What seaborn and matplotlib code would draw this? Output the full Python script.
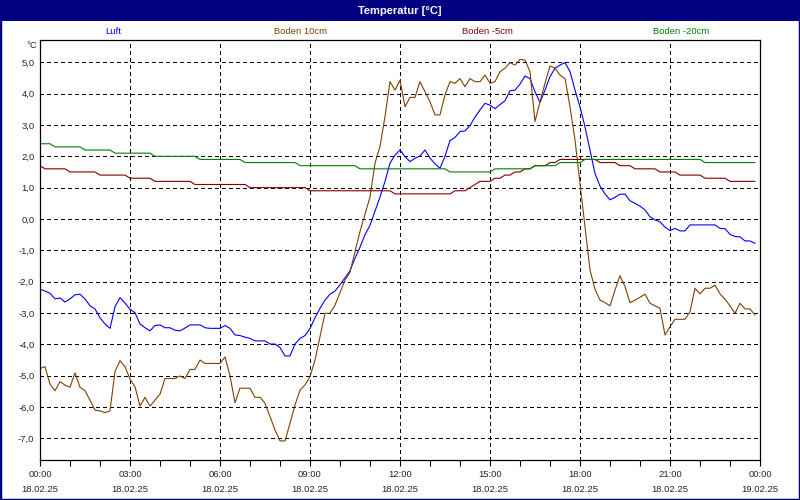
import numpy as np
import pandas as pd
import matplotlib
matplotlib.use("Agg")
import matplotlib.pyplot as plt
import seaborn as sns
from matplotlib.patches import Rectangle

sns.set_style("white")
plt.rcParams['font.family'] = ['Liberation Sans', 'DejaVu Sans']

# ---------------- data ----------------
minutes = np.arange(0, 1440, 10)   # 10-minute samples, 18.02.25 00:00 .. 23:50

series_names = ["Luft", "Boden 10cm", "Boden -5cm", "Boden -20cm"]
series_colors = ["#0000FF", "#804000", "#800000", "#008000"]

luft = [
    -2.24, -2.30, -2.37, -2.55, -2.52, -2.65, -2.55, -2.42, -2.40, -2.55,
    -2.77, -2.87, -3.15, -3.35, -3.49, -2.80, -2.51, -2.68, -2.88, -2.99,
    -3.35, -3.47, -3.57, -3.40, -3.38, -3.47, -3.47, -3.55, -3.57, -3.48,
    -3.38, -3.38, -3.38, -3.47, -3.49, -3.49, -3.49, -3.40, -3.49, -3.70,
    -3.72, -3.77, -3.81, -3.89, -3.89, -3.89, -3.99, -3.99, -4.10, -4.37,
    -4.37, -3.99, -3.81, -3.72, -3.50, -3.15, -2.85, -2.59, -2.40, -2.30,
    -2.10, -1.88, -1.65, -1.25, -0.90, -0.50, -0.20, 0.25, 0.70, 1.20,
    1.78, 2.04, 2.20, 1.99, 1.83, 1.94, 2.01, 2.20, 1.94, 1.76,
    1.62, 2.00, 2.50, 2.60, 2.79, 2.81, 2.98, 3.25, 3.48, 3.69,
    3.63, 3.52, 3.65, 3.77, 4.09, 4.11, 4.30, 4.56, 4.48, 4.06,
    3.72, 4.11, 4.54, 4.81, 4.91, 4.99, 4.70, 4.11, 3.58, 2.94,
    2.20, 1.45, 1.05, 0.80, 0.61, 0.69, 0.79, 0.79, 0.58, 0.50,
    0.41, 0.29, 0.07, -0.03, -0.09, -0.26, -0.37, -0.30, -0.38, -0.38,
    -0.19, -0.19, -0.19, -0.19, -0.19, -0.19, -0.30, -0.31, -0.49, -0.56,
    -0.57, -0.70, -0.70, -0.78,
]

boden_10 = [
    -4.77, -4.71, -5.27, -5.48, -5.19, -5.30, -5.37, -4.91, -5.37, -5.48,
    -5.78, -6.10, -6.12, -6.18, -6.12, -4.87, -4.52, -4.71, -5.11, -5.35,
    -5.97, -5.69, -5.97, -5.78, -5.59, -5.09, -5.09, -5.09, -5.01, -5.09,
    -4.80, -4.80, -4.50, -4.61, -4.61, -4.61, -4.61, -4.40, -5.01, -5.86,
    -5.40, -5.40, -5.40, -5.69, -5.69, -5.88, -6.31, -6.73, -7.08, -7.08,
    -6.52, -5.94, -5.46, -5.30, -5.03, -4.50, -3.76, -3.01, -3.01, -2.75,
    -2.35, -1.95, -1.70, -1.04, -0.40, 0.15, 0.70, 1.78, 2.31, 3.27,
    4.38, 4.11, 4.43, 3.58, 3.88, 3.88, 4.38, 4.06, 3.74, 3.32,
    3.32, 3.96, 4.38, 4.33, 4.48, 4.22, 4.48, 4.38, 4.38, 4.59,
    4.33, 4.38, 4.70, 4.81, 4.99, 4.91, 5.09, 5.07, 4.70, 3.11,
    3.74, 4.33, 4.88, 4.81, 4.59, 4.48, 3.58, 2.52, 1.14, -0.25,
    -1.63, -2.24, -2.59, -2.67, -2.77, -2.27, -1.81, -2.16, -2.67, -2.59,
    -2.50, -2.40, -2.69, -2.77, -2.85, -3.70, -3.44, -3.20, -3.20, -3.20,
    -2.96, -2.21, -2.39, -2.21, -2.21, -2.11, -2.39, -2.56, -2.77, -3.01,
    -2.69, -2.87, -2.87, -3.06,
]

boden_5 = [
    1.7, 1.6, 1.6, 1.6, 1.6, 1.6, 1.5, 1.5, 1.5, 1.5, 1.5, 1.5,
    1.4, 1.4, 1.4, 1.4, 1.4, 1.4, 1.3, 1.3, 1.3, 1.3, 1.3, 1.2,
    1.2, 1.2, 1.2, 1.2, 1.2, 1.2, 1.2, 1.1, 1.1, 1.1, 1.1, 1.1,
    1.1, 1.1, 1.1, 1.1, 1.1, 1.1, 1.0, 1.0, 1.0, 1.0, 1.0, 1.0,
    1.0, 1.0, 1.0, 1.0, 1.0, 1.0, 0.9, 0.9, 0.9, 0.9, 0.9, 0.9,
    0.9, 0.9, 0.9, 0.9, 0.9, 0.9, 0.9, 0.9, 0.9, 0.9, 0.9, 0.8,
    0.8, 0.8, 0.8, 0.8, 0.8, 0.8, 0.8, 0.8, 0.8, 0.8, 0.8, 0.9,
    0.9, 0.9, 1.0, 1.1, 1.2, 1.2, 1.2, 1.3, 1.3, 1.4, 1.4, 1.5,
    1.5, 1.6, 1.6, 1.7, 1.7, 1.7, 1.8, 1.8, 1.9, 1.9, 1.9, 1.9,
    1.9, 1.9, 1.9, 1.9, 1.8, 1.8, 1.8, 1.8, 1.7, 1.7, 1.7, 1.6,
    1.6, 1.6, 1.6, 1.6, 1.5, 1.5, 1.5, 1.5, 1.4, 1.4, 1.4, 1.4,
    1.4, 1.3, 1.3, 1.3, 1.3, 1.3, 1.2, 1.2, 1.2, 1.2, 1.2, 1.2,
]

boden_20 = [
    2.4, 2.4, 2.4, 2.3, 2.3, 2.3, 2.3, 2.3, 2.3, 2.2, 2.2, 2.2,
    2.2, 2.2, 2.2, 2.1, 2.1, 2.1, 2.1, 2.1, 2.1, 2.1, 2.1, 2.0,
    2.0, 2.0, 2.0, 2.0, 2.0, 2.0, 2.0, 2.0, 1.9, 1.9, 1.9, 1.9,
    1.9, 1.9, 1.9, 1.9, 1.9, 1.8, 1.8, 1.8, 1.8, 1.8, 1.8, 1.8,
    1.8, 1.8, 1.8, 1.8, 1.7, 1.7, 1.7, 1.7, 1.7, 1.7, 1.7, 1.7,
    1.7, 1.7, 1.7, 1.7, 1.6, 1.6, 1.6, 1.6, 1.6, 1.6, 1.6, 1.6,
    1.6, 1.6, 1.6, 1.6, 1.6, 1.6, 1.6, 1.6, 1.6, 1.6, 1.5, 1.5,
    1.5, 1.5, 1.5, 1.5, 1.5, 1.5, 1.5, 1.6, 1.6, 1.6, 1.6, 1.6,
    1.6, 1.6, 1.6, 1.7, 1.7, 1.7, 1.7, 1.7, 1.8, 1.8, 1.8, 1.8,
    1.8, 1.9, 1.9, 1.9, 1.9, 1.9, 1.9, 1.9, 1.9, 1.9, 1.9, 1.9,
    1.9, 1.9, 1.9, 1.9, 1.9, 1.9, 1.9, 1.9, 1.9, 1.9, 1.9, 1.9,
    1.9, 1.8, 1.8, 1.8, 1.8, 1.8, 1.8, 1.8, 1.8, 1.8, 1.8, 1.8,
]

xtick_hours = [0, 3, 6, 9, 12, 15, 18, 21, 24]
xtick_labels = ["00:00\n18.02.25", "03:00\n18.02.25", "06:00\n18.02.25",
                "09:00\n18.02.25", "12:00\n18.02.25", "15:00\n18.02.25",
                "18:00\n18.02.25", "21:00\n18.02.25", "00:00\n19.02.25"]
ytick_values = [-7, -6, -5, -4, -3, -2, -1, 0, 1, 2, 3, 4, 5]
ytick_labels = ["-7,0", "-6,0", "-5,0", "-4,0", "-3,0", "-2,0", "-1,0",
                "0,0", "1,0", "2,0", "3,0", "4,0", "5,0"]

title = "Temperatur [°C]"
unit_label = "°C"

# ---------------- frame ----------------
df = pd.DataFrame({
    "hours": np.tile(minutes / 60.0, 4),
    "value": np.concatenate([luft, boden_10, boden_5, boden_20]),
    "series": np.repeat(series_names, len(minutes)),
})

W, H = 800, 500
fig = plt.figure(figsize=(8, 5), dpi=100)
fig.patch.set_facecolor("white")
ax = fig.add_axes([40 / W, 40 / H, 720 / W, 420 / H])
ax.set_facecolor("white")

sns.lineplot(data=df, x="hours", y="value", hue="series",
             hue_order=series_names,
             palette=dict(zip(series_names, series_colors)),
             estimator=None, legend=False, linewidth=0.8, ax=ax)

ax.set_xlim(0, 24)
ax.set_ylim(-7.69, 5.71)
ax.set_xlabel("")
ax.set_ylabel("")

ax.set_xticks(xtick_hours)
ax.set_xticklabels(xtick_labels)
ax.set_xticks(range(0, 25), minor=True)
ax.set_yticks(ytick_values)
ax.set_yticklabels(ytick_labels)

for lab in ax.get_xticklabels():
    lab.set_linespacing(1.9)

ax.tick_params(axis="x", which="both", direction="out", length=4, width=0.8,
               color="black", labelsize=6.8, pad=3, bottom=True)
ax.tick_params(axis="y", which="both", length=0, labelsize=6.8, pad=4,
               left=True)

ax.set_axisbelow(True)
ax.grid(True, which="major", color="black", linestyle=(0, (3, 3)),
        linewidth=0.75, antialiased=False)
ax.grid(False, which="minor")

for s in ax.spines.values():
    s.set_visible(True)
    s.set_color("black")
    s.set_linewidth(0.9)

# ---------------- header / decorations ----------------
fig.add_artist(Rectangle((0, 1 - 21 / H), 1, 21 / H, transform=fig.transFigure,
                         facecolor="#000080", edgecolor="none", zorder=0))
fig.add_artist(Rectangle((0, 0), 1, 1, transform=fig.transFigure,
                         fill=False, edgecolor="#000080", linewidth=2.5))
fig.text(0.5, 1 - 10.5 / H, title, color="white", fontweight="bold",
         fontsize=8, ha="center", va="center")

legend_x = [113, 300, 487, 681]
for name, col, lx in zip(series_names, series_colors, legend_x):
    fig.text(lx / W, 1 - 31 / H, name, color=col, fontsize=6.8,
             ha="center", va="center")

fig.text(37 / W, 1 - 45 / H, unit_label, fontsize=6.8, ha="right", va="center")

fig.savefig("out.png", dpi=100)
